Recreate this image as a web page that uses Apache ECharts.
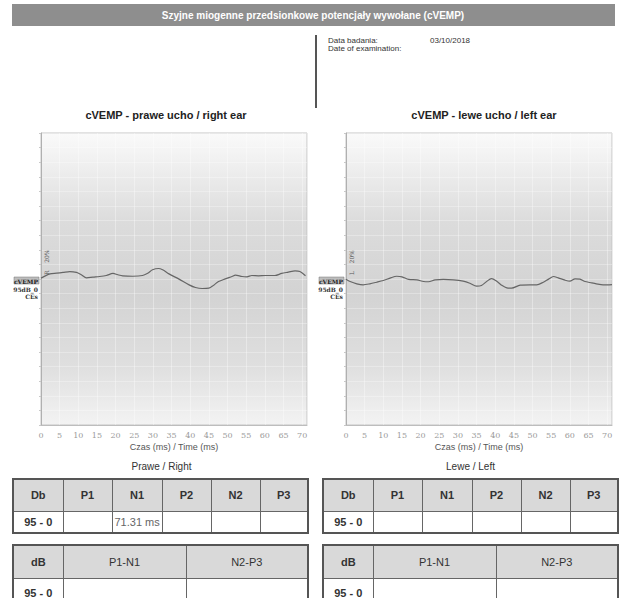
<!DOCTYPE html>
<html>
<head>
<meta charset="utf-8">
<script src="https://cdn.jsdelivr.net/npm/echarts@6/dist/echarts.min.js"></script>
<style>
  html,body{margin:0;padding:0;background:#fff;}
  #page{position:relative;width:621px;height:598px;overflow:hidden;font-family:"Liberation Sans",Arial,sans-serif;}
  #chart{position:absolute;left:0;top:0;width:621px;height:598px;}
  .cap{position:absolute;font-size:10px;color:#333;text-align:center;}
  table{position:absolute;border-collapse:collapse;table-layout:fixed;font-family:"Liberation Sans",Arial,sans-serif;}
  td{border:1px solid #666;font-size:11px;color:#333;text-align:center;padding:0;}
  tr.h td{background:#d9d9d9;font-weight:bold;}
  td.b{font-weight:bold;}
  td.v{text-align:left;color:#666;padding-left:2px;}
  table{border:2px solid #555;}
</style>
</head>
<body>
<div id="page">
  <div id="chart"></div>
  <div id="tables"></div>
</div>
<script>
// ---- data ----
var timeMax = 71.3;
var rightT = [0,2.4,4.2,5.9,7.7,9.5,10.8,12.2,13.9,15.7,17.5,19.3,20.6,21.9,24.6,27.2,28.6,29.9,31.5,32.6,34.3,37.0,39.7,41.4,43.2,45.0,46.3,47.6,49.4,51.2,52.1,53.9,55.2,56.5,58.3,60.1,62.7,64.5,66.3,68.1,69.4,70.9];
var rightV = [0.6,3.5,4.0,4.5,5.1,4.5,2.9,0.8,1.3,1.7,2.4,3.8,2.9,2.2,1.9,2.4,4.0,6.3,7.2,6.3,3.5,-0.1,-4.0,-5.8,-6.5,-6.3,-4.2,-1.7,0.1,1.7,2.6,1.7,1.5,2.4,2.2,2.4,2.4,3.8,4.7,5.6,5.1,2.2];
var leftT = [0,1.1,2.9,4.6,6.4,8.2,10.0,11.8,13.6,15.0,16.8,19.0,20.8,22.1,23.9,26.1,28.8,31.4,33.2,35.0,36.3,37.7,39.0,40.4,41.7,43.1,44.4,46.7,49.3,51.1,52.9,54.3,55.6,56.9,58.7,60.0,61.4,62.7,64.1,65.4,67.1,68.9,71.3];
var leftV = [-0.1,-1.7,-3.3,-4.0,-3.3,-2.2,-1.0,0.6,1.9,1.5,-0.3,-0.6,-1.7,-1.9,-0.6,-0.3,-0.6,-1.5,-2.9,-4.9,-4.5,-1.7,0.3,-1.5,-4.2,-6.1,-6.3,-4.2,-4.0,-4.0,-2.2,-0.1,1.7,0.8,-0.8,-1.5,0.1,-0.1,-1.7,-2.4,-3.3,-4.0,-3.8];
var chartTitles = ["cVEMP - prawe ucho / right ear", "cVEMP - lewe ucho / left ear"];
var pageTitle = "Szyjne miogenne przedsionkowe potencjały wywołane (cVEMP)";
var axisName = "Czas (ms) / Time (ms)";
var peakCols = ["Db","P1","N1","P2","N2","P3"];
var rightPeaks = ["95 - 0","","71.31 ms","","",""];
var leftPeaks = ["95 - 0","","","","",""];
var ampCols = ["dB","P1-N1","N2-P3"];
var ampRow = ["95 - 0","",""];

function zip(a,b){return a.map(function(x,i){return [x,b[i]];});}

var bg = {type:'linear',x:0,y:0,x2:0,y2:1,colorStops:[
  {offset:0,color:'#fafafa'},{offset:0.3,color:'#dcdcdc'},{offset:0.55,color:'#d3d3d3'},{offset:0.8,color:'#dfdfdf'},{offset:1,color:'#f3f3f3'}]};

function gridDef(left){
  return {left:left, top:133, width:266, height:292, show:true, backgroundColor:bg, borderColor:'#c4c4c4', borderWidth:1};
}
function xDef(i){
  return {type:'value', gridIndex:i, min:0, max:timeMax, interval:5,
    axisLine:{onZero:false, lineStyle:{color:'#bdbdbd'}}, axisTick:{show:false},
    axisLabel:{color:'#9a9a9a', fontSize:8, margin:6, showMaxLabel:false, fontFamily:'DejaVu Serif'},
    splitLine:{show:true, lineStyle:{color:'rgba(255,255,255,0.35)', width:1}},
    name:axisName, nameLocation:'middle', nameGap:17, nameTextStyle:{color:'#555', fontSize:9}};
}
function yDef(i){
  return {type:'value', gridIndex:i, min:-100, max:100, interval:10,
    axisLine:{show:true, onZero:false, lineStyle:{color:'#b0b0b0'}},
    axisTick:{show:true, length:2, lineStyle:{color:'#c8c8c8'}},
    axisLabel:{show:false},
    splitLine:{show:true, lineStyle:{color:'rgba(255,255,255,0.3)', width:1}}};
}
function sideLabel(x,y,letter){
  return [
    {type:'rect', shape:{x:x-26,y:y,width:25,height:7}, style:{fill:'#bdbdbd',stroke:'#777',lineWidth:0.5}},
    {type:'text', style:{x:x-2,y:y+1,text:'cVEMP',fill:'#222',font:'bold 6px "DejaVu Serif"',textAlign:'right'}},
    {type:'text', style:{x:x-2,y:y+9,text:'95dB_0',fill:'#333',font:'bold 6px "DejaVu Serif"',textAlign:'right'}},
    {type:'text', style:{x:x-2,y:y+16,text:'CEs',fill:'#333',font:'bold 6px "DejaVu Serif"',textAlign:'right'}},
    {type:'text', rotation:Math.PI/2, x:x+3, y:y-2, style:{x:0,y:0,text:letter+'    20%',fill:'#555',font:'6px "DejaVu Serif"'}}
  ];
}

var chart = echarts.init(document.getElementById('chart'), null, {renderer:'svg'});
chart.setOption({
  animation:false,
  grid:[gridDef(41), gridDef(346)],
  xAxis:[xDef(0), xDef(1)],
  yAxis:[yDef(0), yDef(1)],
  series:[
    {type:'line', xAxisIndex:0, yAxisIndex:0, data:zip(rightT,rightV), showSymbol:false, smooth:0.3, lineStyle:{color:'#666',width:1.2}},
    {type:'line', xAxisIndex:1, yAxisIndex:1, data:zip(leftT,leftV), showSymbol:false, smooth:0.3, lineStyle:{color:'#666',width:1.2}}
  ],
  graphic:[
    {type:'rect', shape:{x:12,y:4,width:603,height:22}, style:{fill:'#8e8e8e'}},
    {type:'text', style:{x:313,y:10,text:pageTitle,fill:'#fff',font:'bold 10px "Liberation Sans"',textAlign:'center'}},
    {type:'line', shape:{x1:316,y1:35,x2:316,y2:108}, style:{stroke:'#555',lineWidth:2}},
    {type:'text', style:{x:328,y:36,text:'Data badania:',fill:'#333',font:'8px "Liberation Sans"'}},
    {type:'text', style:{x:430,y:36,text:'03/10/2018',fill:'#333',font:'8px "Liberation Sans"'}},
    {type:'text', style:{x:328,y:44,text:'Date of examination:',fill:'#333',font:'8px "Liberation Sans"'}},
    {type:'text', style:{x:166,y:109,text:chartTitles[0],fill:'#222',font:'bold 11px "Liberation Sans"',textAlign:'center'}},
    {type:'text', style:{x:484,y:109,text:chartTitles[1],fill:'#222',font:'bold 11px "Liberation Sans"',textAlign:'center'}}
  ].concat(sideLabel(40,277,'R'), sideLabel(345,277,'L'))
});

// ---- tables ----
function peakTable(left, vals){
  var w=[50,49,50,49,49,48];
  var h='<table style="left:'+left+'px;top:478px;width:297px;"><colgroup>'+w.map(function(x){return '<col style="width:'+x+'px">';}).join('')+'</colgroup>';
  h+='<tr class="h" style="height:32px">'+peakCols.map(function(c){return '<td>'+c+'</td>';}).join('')+'</tr>';
  h+='<tr style="height:22px">'+vals.map(function(v,i){return '<td class="'+(i===0?'b':'v')+'">'+v+'</td>';}).join('')+'</tr></table>';
  return h;
}
function ampTable(left){
  var w=[50,123,122];
  var h='<table style="left:'+left+'px;top:544px;width:297px;"><colgroup>'+w.map(function(x){return '<col style="width:'+x+'px">';}).join('')+'</colgroup>';
  h+='<tr class="h" style="height:33px">'+ampCols.map(function(c,i){return '<td style="'+(i>0?'font-weight:normal;':'')+'">'+c+'</td>';}).join('')+'</tr>';
  h+='<tr style="height:30px">'+ampRow.map(function(v,i){return '<td class="'+(i===0?'b':'v')+'">'+v+'</td>';}).join('')+'</tr></table>';
  return h;
}
var html='';
html+='<div class="cap" style="left:13px;top:461px;width:297px;">Prawe / Right</div>';
html+='<div class="cap" style="left:322px;top:461px;width:297px;">Lewe / Left</div>';
html+=peakTable(12,rightPeaks)+peakTable(322,leftPeaks)+ampTable(12)+ampTable(322);
document.getElementById('tables').innerHTML=html;
</script>
</body>
</html>
